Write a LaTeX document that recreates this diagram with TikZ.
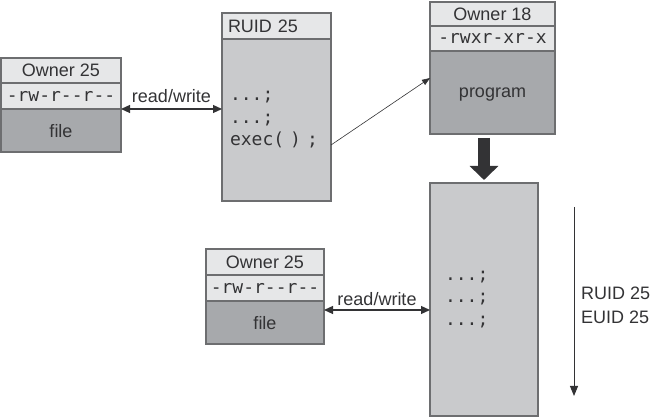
\documentclass[tikz,border=0pt]{standalone}
\usepackage{fontspec}
\setmainfont{Liberation Sans}
\newfontfamily\codefont[Ligatures=TeXOff]{DejaVu Sans Mono}
\usetikzlibrary{arrows.meta,calc,positioning}
\definecolor{boxline}{HTML}{6D6E70}
\definecolor{lightrow}{HTML}{E6E7E8}
\definecolor{midfill}{HTML}{C9CACC}
\definecolor{darkfill}{HTML}{A7A9AC}
\definecolor{inkgray}{HTML}{333335}

\begin{document}
\begin{tikzpicture}[x=1pt, y=1pt,
	every node/.style={font=\fontsize{18}{21}\selectfont, text=inkgray},
	cell/.style={draw=boxline, line width=1.1pt, inner sep=0pt, outer sep=0pt},
	titlerow/.style={cell, fill=lightrow},
	permrow/.style={cell, fill=lightrow, font=\codefont\fontsize{18}{21}\selectfont},
	filerow/.style={cell, fill=darkfill, text depth=0pt},
	coderow/.style={cell, fill=midfill, align=left, font=\codefont\fontsize{18}{22.5}\selectfont},
	rwarrow/.style={draw=inkgray, line width=1.2pt, {Triangle[length=9pt,width=8pt]}-{Triangle[length=9pt,width=8pt]}},
	thinarrow/.style={draw=inkgray, line width=0.6pt, -{Triangle[length=8pt,width=6pt]}},
	fatarrow/.style={draw=inkgray, line width=12pt, -{Triangle[length=14pt,width=28pt]}}
	]
		\useasboundingbox (0,0) rectangle (650,417);
		% file of owner 25, top left
		\node[titlerow, minimum width=120pt, minimum height=25pt] (own1) at (61,346.5) {Owner 25};
		\node[permrow, minimum width=120pt, minimum height=26pt, below=0pt of own1] (perm1) {-rw-r--r--};
		\node[filerow, minimum width=120pt, minimum height=43pt, below=0pt of perm1] (file1) {file};
		% calling process
		\node[titlerow, text width=97pt, inner xsep=6pt, minimum height=26pt, align=left] (ruid) at (276.5,391) {RUID 25};
		\node[coderow, text width=93pt, inner xsep=8pt, minimum height=162pt, below=0pt of ruid] (code) {...;\\...;\\exec( ) ;};
		% program of owner 18
		\node[titlerow, minimum width=125pt, minimum height=24pt] (own3) at (492.5,403) {Owner 18};
		\node[permrow, minimum width=125pt, minimum height=25pt, below=0pt of own3] (perm3) {-rwxr-xr-x};
		\node[filerow, minimum width=125pt, minimum height=83pt, below=0pt of perm3] (prog) {program};
		% new process image
		\node[coderow, text width=78pt, inner xsep=15pt, minimum height=233pt] (newcode) at (484,117.5) {...;\\...;\\...;};
		% file of owner 25, bottom
		\node[titlerow, minimum width=118pt, minimum height=26pt] (own5) at (265,155) {Owner 25};
		\node[permrow, minimum width=118pt, minimum height=26pt, below=0pt of own5] (perm5) {-rw-r--r--};
		\node[filerow, minimum width=118pt, minimum height=43pt, below=0pt of perm5] (file5) {file};
		% connectors
		\coordinate (rw2) at ($(perm5.south east)+(0,-9)$);
		\coordinate (execend) at ($(code.east)+(0,-25)$);
		\coordinate (progin) at ($(prog.north west)+(0,-27)$);
		\coordinate (runtop) at (574,210);
		\coordinate (runbot) at (574,21);
		\draw[rwarrow] (perm1.south east) -- (perm1.south east -| code.west) node[midway, above=2pt] {read/write};
		\draw[rwarrow] (rw2) -- (rw2 -| newcode.west) node[midway, above=0pt] {read/write};
		\draw[thinarrow] (execend) -- (progin);
		\draw[fatarrow, shorten <=4pt, shorten >=3pt] (newcode.north |- prog.south) -- (newcode.north);
		\draw[draw=inkgray, line width=0.9pt, -{Triangle[length=10pt,width=8pt]}] (runtop) -- (runbot);
		\node[anchor=west, align=left, inner sep=0pt, font=\fontsize{18}{24}\selectfont] (ids) at (581,112) {RUID 25\\EUID 25};
	\end{tikzpicture}
\end{document}
